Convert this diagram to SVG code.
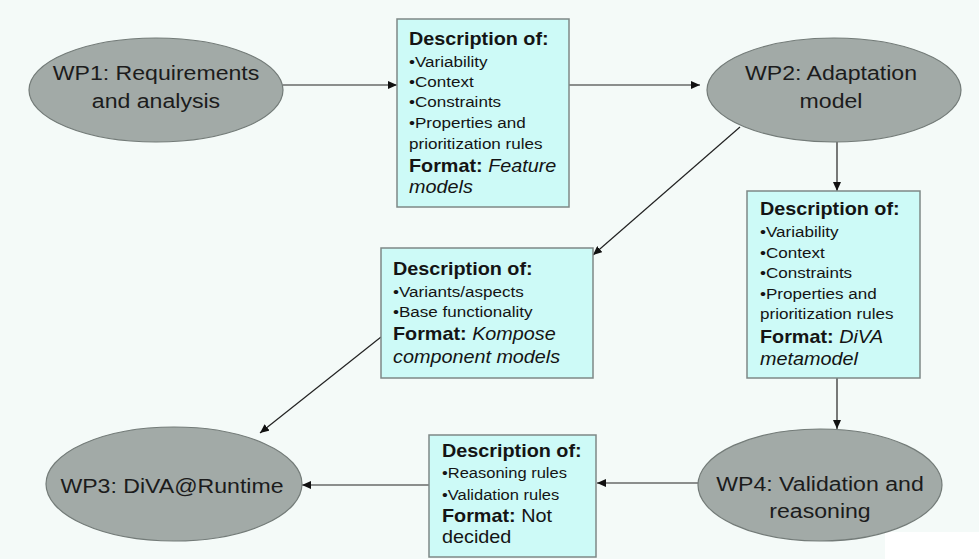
<svg xmlns="http://www.w3.org/2000/svg" width="979" height="559" viewBox="0 0 979 559">
<defs>
<marker id="ah" markerUnits="userSpaceOnUse" markerWidth="10" markerHeight="8" refX="9" refY="4" orient="auto">
<path d="M0,0 L9,4 L0,8 Z" fill="#111"/>
</marker>
<style>
.ell{fill:#a2aaa7;stroke:#737b78;stroke-width:1.2}
.box{fill:#cdfaf7;stroke:#7e8886;stroke-width:1.5}
.et{font-family:"Liberation Sans",Arial,sans-serif;font-size:21px;fill:#1c1c1c;text-anchor:middle}
.h{font-family:"Liberation Sans",Arial,sans-serif;font-size:18px;font-weight:bold;fill:#141414}
.b{font-family:"Liberation Sans",Arial,sans-serif;font-size:15.5px;fill:#141414}
.b2{font-family:"Liberation Sans",Arial,sans-serif;font-size:15px;fill:#141414}
.r{font-family:"Liberation Sans",Arial,sans-serif;font-size:18px;fill:#141414}
.i{font-weight:normal;font-style:italic}
.n{font-weight:normal}
.ln{stroke:#222;stroke-width:1.2;fill:none;marker-end:url(#ah)}
</style>
</defs>
<rect x="0" y="0" width="979" height="559" fill="#f4faf8"/>
<rect x="885" y="532" width="94" height="27" fill="#ffffff"/>

<g id="connectors">
<line class="ln" x1="283" y1="85" x2="397" y2="85"/>
<line class="ln" x1="569" y1="85" x2="700" y2="85"/>
<line class="ln" x1="837" y1="142" x2="837" y2="191"/>
<line class="ln" x1="740" y1="127" x2="593" y2="255"/>
<line class="ln" x1="381" y1="337" x2="260" y2="433"/>
<line class="ln" x1="837" y1="378" x2="837" y2="429"/>
<line class="ln" x1="698" y1="483" x2="597" y2="483"/>
<line class="ln" x1="429" y1="485" x2="302" y2="485"/>
</g>

<g id="wp1">
<ellipse class="ell" cx="156" cy="90" rx="127" ry="52"/>
<g transform="translate(156,0) scale(1.1,1)">
<text class="et" x="0" y="80">WP1: Requirements</text>
<text class="et" x="0" y="108">and analysis</text>
</g>
</g>

<g id="wp2">
<ellipse class="ell" cx="834" cy="90" rx="127" ry="52"/>
<g transform="translate(831,0) scale(1.1,1)">
<text class="et" x="0" y="80">WP2: Adaptation</text>
<text class="et" x="0" y="108">model</text>
</g>
</g>

<g id="wp3">
<ellipse class="ell" cx="174" cy="484" rx="128" ry="57"/>
<g transform="translate(172,0) scale(1.1,1)">
<text class="et" x="0" y="493">WP3: DiVA@Runtime</text>
</g>
</g>

<g id="wp4">
<ellipse class="ell" cx="820" cy="485" rx="122" ry="56"/>
<g transform="translate(820,0) scale(1.1,1)">
<text class="et" x="0" y="491">WP4: Validation and</text>
<text class="et" x="0" y="518">reasoning</text>
</g>
</g>

<g id="box1">
<rect class="box" x="397" y="19" width="172" height="188"/>
<g transform="translate(409,0) scale(1.1,1)">
<text class="h" x="0" y="45">Description of:</text>
<text class="b" x="0" y="67">•Variability</text>
<text class="b" x="0" y="87">•Context</text>
<text class="b" x="0" y="107">•Constraints</text>
<text class="b" x="0" y="128">•Properties and</text>
<text class="b" x="0" y="149">prioritization rules</text>
<text class="h" x="0" y="172">Format: <tspan class="i">Feature</tspan></text>
<text class="h i" x="0" y="193">models</text>
</g>
</g>

<g id="box2">
<rect class="box" x="747" y="191" width="173" height="187"/>
<g transform="translate(760,0) scale(1.1,1)">
<text class="h" x="0" y="215">Description of:</text>
<text class="b" x="0" y="237">•Variability</text>
<text class="b" x="0" y="258">•Context</text>
<text class="b" x="0" y="278">•Constraints</text>
<text class="b" x="0" y="299">•Properties and</text>
<text class="b" x="0" y="319">prioritization rules</text>
<text class="h" x="0" y="343">Format: <tspan class="i">DiVA</tspan></text>
<text class="h i" x="0" y="365">metamodel</text>
</g>
</g>

<g id="box3">
<rect class="box" x="381" y="248" width="212" height="130"/>
<g transform="translate(393,0) scale(1.1,1)">
<text class="h" x="0" y="275">Description of:</text>
<text class="b" x="0" y="297">•Variants/aspects</text>
<text class="b" x="0" y="317">•Base functionality</text>
<text class="h" x="0" y="340">Format: <tspan class="i">Kompose</tspan></text>
<text class="h i" x="0" y="363">component models</text>
</g>
</g>

<g id="box4">
<rect class="box" x="429" y="435" width="167" height="122"/>
<g transform="translate(442,0) scale(1.1,1)">
<text class="h" x="0" y="457">Description of:</text>
<text class="b2" x="0" y="478">•Reasoning rules</text>
<text class="b2" x="0" y="500">•Validation rules</text>
<text class="h" x="0" y="522">Format: <tspan class="n">Not</tspan></text>
<text class="r" x="0" y="543">decided</text>
</g>
</g>
</svg>
